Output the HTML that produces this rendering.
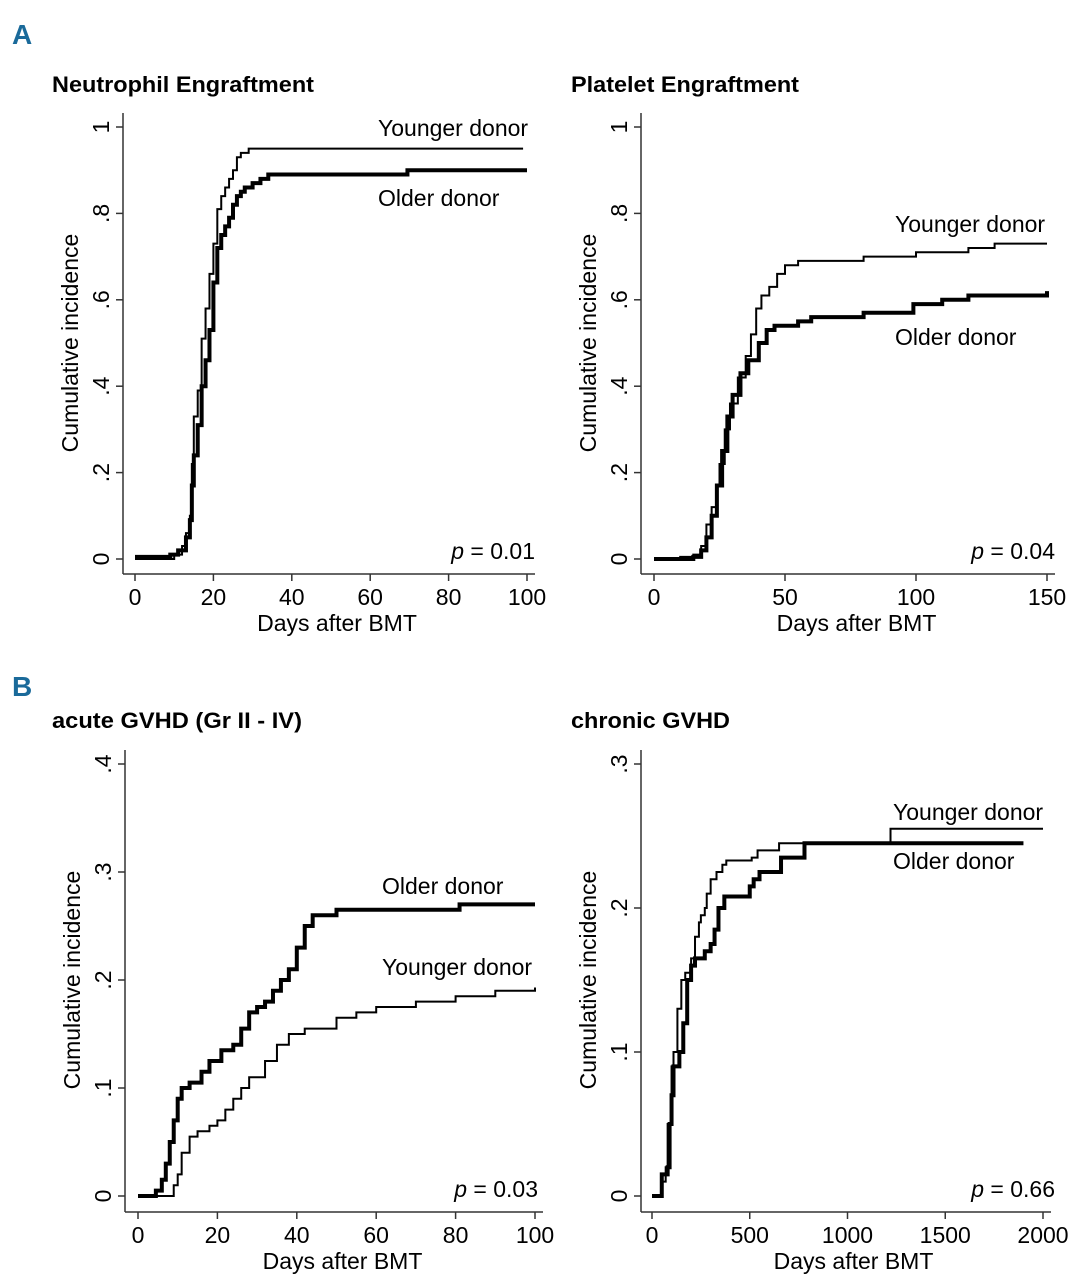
<!DOCTYPE html>
<html><head><meta charset="utf-8"><style>
body{margin:0;background:#fff;}
svg{display:block;font-family:"Liberation Sans",sans-serif;}
</style></head><body>
<svg id="c" width="1088" height="1280" viewBox="0 0 1088 1280" xmlns="http://www.w3.org/2000/svg">
<text x="12" y="44" font-size="28" font-weight="bold" fill="#1a6a9a">A</text>
<text x="12" y="696" font-size="28" font-weight="bold" fill="#1a6a9a">B</text>
</svg>
<script>
// Neutrophil
const neutYoungX=[0,9,10,12,13,14,14.5,15,16,17,18,19,20,21,22,23,24,25,26,27,29,99];
const neutYoungY=[0,0,.01,.03,.06,.1,.22,.33,.39,.51,.58,.66,.73,.81,.84,.86,.88,.9,.93,.94,.95,.95];
const neutOldX=[0,9,11,13,14,14.5,15,16,17,18,19,20,21,22,23,24,25,26,27,28,30,32,34,69,69.5,100];
const neutOldY=[.005,.01,.02,.05,.09,.17,.24,.31,.4,.46,.53,.64,.72,.75,.77,.79,.82,.84,.85,.86,.87,.88,.89,.89,.9,.9];
// Platelet
const platYoungX=[0,10,15,18,20,22,24,25,27,29,32,35,37,39,41,44,47,50,55,65,80,100,120,130,150];
const platYoungY=[0,.005,.01,.03,.08,.12,.17,.22,.3,.36,.42,.47,.52,.58,.61,.63,.66,.68,.69,.69,.7,.71,.72,.73,.73];
const platOldX=[0,15,18,20,22,24,26,28,30,33,36,40,43,46,55,60,75,80,98,99,110,120,150];
const platOldY=[0,.005,.02,.05,.1,.17,.25,.33,.38,.43,.46,.5,.53,.54,.55,.56,.56,.57,.57,.59,.6,.61,.62];
// Acute GVHD
const aOldX=[0,4,4.5,6,7,8,9,10,11,13,16,18,21,24,26,28,30,32,34,36,38,40,42,44,50,80,81,100];
const aOldY=[0,0,.005,.015,.03,.05,.07,.09,.1,.105,.115,.125,.135,.14,.155,.17,.175,.18,.19,.2,.21,.23,.25,.26,.265,.265,.27,.27];
const aYoungX=[0,8,9,10,11,13,15,18,20,22,24,26,28,32,35,38,42,50,55,60,70,80,90,100];
const aYoungY=[0,0,.01,.02,.04,.055,.06,.065,.07,.08,.09,.1,.11,.125,.14,.15,.155,.165,.17,.175,.18,.185,.19,.193];
// Chronic GVHD
const cYoungX=[0,40,50,70,80,100,110,130,150,170,200,220,240,250,270,280,300,330,360,380,510,540,650,1200,1220,2000];
const cYoungY=[0,0,.01,.02,.05,.09,.1,.13,.15,.155,.165,.18,.19,.195,.2,.21,.22,.225,.23,.233,.235,.24,.245,.245,.255,.255];
const cOldX=[0,40,50,80,90,100,110,140,160,180,200,220,270,300,320,340,370,500,520,550,660,780,1900];
const cOldY=[0,0,.015,.02,.05,.07,.09,.1,.12,.15,.16,.165,.17,.175,.185,.2,.208,.215,.22,.225,.235,.245,.245];
const xTicksA1=[0,20,40,60,80,100], yTicksA=[0,.2,.4,.6,.8,1], yLabA=["0",".2",".4",".6",".8","1"];
const xTicksA2=[0,50,100,150];
const xTicksB1=[0,20,40,60,80,100], yTicksB1=[0,.1,.2,.3,.4], yLabB1=["0",".1",".2",".3",".4"];
const xTicksB2=[0,500,1000,1500,2000], yTicksB2=[0,.1,.2,.3], yLabB2=["0",".1",".2",".3"];

const svg=document.getElementById('c');
const NS="http://www.w3.org/2000/svg";
const FS=23;
function mk(tag,attrs,txt){const e=document.createElementNS(NS,tag);for(const k in attrs)e.setAttribute(k,attrs[k]);if(txt!==undefined)e.textContent=txt;svg.appendChild(e);return e;}

function panel(p){
  const sx=v=>p.x0+(v-p.xmin)/(p.xmax-p.xmin)*(p.x1-p.x0);
  const sy=v=>p.y0-(v/p.ymax)*(p.y0-p.y1);
  let t=mk('text',{x:p.tx,y:p.ty,'font-size':22,'font-weight':'bold',textLength:p.tl,lengthAdjust:'spacingAndGlyphs'},p.title);
  
  
  let ax=mk('line',{x1:p.ax,y1:p.y1-14,x2:p.ax,y2:p.xl,stroke:'#333','stroke-width':1.5});
  
  
  let bx=mk('line',{x1:p.ax,y1:p.xl,x2:p.x1+8,y2:p.xl,stroke:'#333','stroke-width':1.5});
  
  
  p.yt.forEach((v,i)=>{
    let l=mk('line',{x1:p.ax-7,y1:sy(v),x2:p.ax,y2:sy(v),stroke:'#333','stroke-width':1.5});
    
    
    let tx=mk('text',{x:0,y:0,'font-size':FS,'text-anchor':'middle',transform:`translate(${p.ax-14},${sy(v)}) rotate(-90)`},p.yl[i]);
    
    
  });
  p.xt.forEach(v=>{
    let l=mk('line',{x1:sx(v),y1:p.xl,x2:sx(v),y2:p.xl+7,stroke:'#333','stroke-width':1.5});
    
    
    let tx=mk('text',{x:sx(v),y:p.xl+31,'font-size':FS,'text-anchor':'middle'},String(v));
    
    
  });
  let xt=mk('text',{x:(sx(p.xmin)+sx(p.xmax))/2+6,y:p.xl+57,'font-size':FS,'text-anchor':'middle'},'Days after BMT');
  
  
  let yt=mk('text',{x:0,y:0,'font-size':FS,'text-anchor':'middle',transform:`translate(${p.ax-45},${(p.y0+p.y1)/2}) rotate(-90)`},'Cumulative incidence');
  
  
  p.series.forEach(s=>{
    let d='M'+sx(s.x[0])+','+sy(s.y[0]);
    for(let i=1;i<s.x.length;i++){d+=' H'+sx(s.x[i])+' V'+sy(s.y[i]);}
    let pa=mk('path',{d:d,fill:'none',stroke:'#000','stroke-width':s.w});
    
    
  });
  p.labels.forEach(L=>{
    let tx=mk('text',{x:L[0],y:L[1],'font-size':FS},L[2]);
    
    
  });
  let pv=mk('text',{x:p.pv[0],y:p.pv[1],'font-size':FS,'text-anchor':'end'});
  
  
  pv.innerHTML='<tspan font-style="italic">p</tspan> = '+p.pv[2];
}

panel({id:'neutrophil',title:'Neutrophil Engraftment',tl:262,tx:52,ty:92,ax:123,xl:574,x0:135,x1:527,xmin:0,xmax:100,y0:559,y1:127,ymax:1,
 yt:yTicksA,yl:yLabA,xt:xTicksA1,
 series:[{x:neutYoungX,y:neutYoungY,w:2,name:'neutrophil-younger-line'},{x:neutOldX,y:neutOldY,w:4,name:'neutrophil-older-line'}],
 labels:[[378,136,'Younger donor','younger-label'],[378,206,'Older donor','older-label']],pv:[535,559,'0.01']});
panel({id:'platelet',title:'Platelet Engraftment',tl:228,tx:571,ty:92,ax:641,xl:574,x0:654,x1:1047,xmin:0,xmax:150,y0:559,y1:127,ymax:1,
 yt:yTicksA,yl:yLabA,xt:xTicksA2,
 series:[{x:platYoungX,y:platYoungY,w:2,name:'platelet-younger-line'},{x:platOldX,y:platOldY,w:4,name:'platelet-older-line'}],
 labels:[[895,232,'Younger donor','younger-label'],[895,345,'Older donor','older-label']],pv:[1055,559,'0.04']});
panel({id:'acute-gvhd',title:'acute GVHD (Gr II - IV)',tl:250,tx:52,ty:728,ax:125,xl:1212,x0:138,x1:535,xmin:0,xmax:100,y0:1196,y1:764,ymax:.4,
 yt:yTicksB1,yl:yLabB1,xt:xTicksB1,
 series:[{x:aYoungX,y:aYoungY,w:2,name:'acute-younger-line'},{x:aOldX,y:aOldY,w:4,name:'acute-older-line'}],
 labels:[[382,894,'Older donor','older-label'],[382,975,'Younger donor','younger-label']],pv:[538,1197,'0.03']});
panel({id:'chronic-gvhd',title:'chronic GVHD',tl:159,tx:571,ty:728,ax:641,xl:1212,x0:652,x1:1043,xmin:0,xmax:2000,y0:1196,y1:764,ymax:.3,
 yt:yTicksB2,yl:yLabB2,xt:xTicksB2,
 series:[{x:cYoungX,y:cYoungY,w:2,name:'chronic-younger-line'},{x:cOldX,y:cOldY,w:4,name:'chronic-older-line'}],
 labels:[[893,820,'Younger donor','younger-label'],[893,869,'Older donor','older-label']],pv:[1055,1197,'0.66']});
</script>
</body></html>
